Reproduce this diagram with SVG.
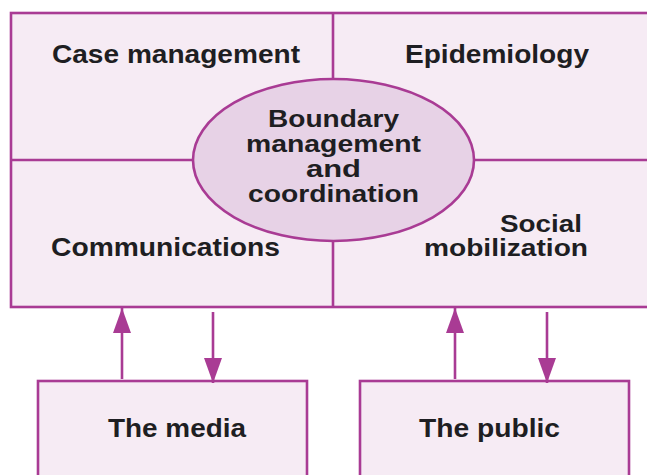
<svg xmlns="http://www.w3.org/2000/svg" width="647" height="475" viewBox="0 0 647 475">
  <style>
    .box { fill: #F6EBF4; stroke: #A93B94; stroke-width: 2.6; }
    .hub { fill: #E7D2E6; stroke: #A93B94; stroke-width: 2.6; }
    .div { stroke: #A93B94; stroke-width: 2.6; fill: none; }
    .lbl { font-family: "Liberation Sans", Arial, Helvetica, sans-serif; font-weight: bold; font-size: 25px; fill: #1E1E22; }
    .tight { font-size: 24px; }
    .tighter { font-size: 23px; }
    .link { stroke: #A93B94; stroke-width: 2.6; fill: none; }
  </style>
  <defs>
    <marker id="head" viewBox="0 0 25 18" refX="25" refY="9" markerWidth="25" markerHeight="18" markerUnits="userSpaceOnUse" orient="auto">
      <path d="M0,0 L25,9 L0,18 Z" fill="#A93B94"/>
    </marker>
  </defs>

  <g id="functions">
    <rect class="box" x="11" y="13" width="650" height="294"/>
    <line class="div" x1="11" y1="160" x2="661" y2="160"/>
    <line class="div" x1="333" y1="13" x2="333" y2="307"/>
  </g>

  <g id="case-management">
    <text class="lbl" x="52" y="63" textLength="248" lengthAdjust="spacingAndGlyphs">Case management</text>
  </g>
  <g id="epidemiology">
    <text class="lbl" x="405" y="63" textLength="184" lengthAdjust="spacingAndGlyphs">Epidemiology</text>
  </g>
  <g id="communications">
    <text class="lbl" x="51" y="256" textLength="229" lengthAdjust="spacingAndGlyphs">Communications</text>
  </g>
  <g id="social-mobilization">
    <text class="lbl tighter" x="500" y="232" textLength="82" lengthAdjust="spacingAndGlyphs">Social</text>
    <text class="lbl tighter" x="424" y="256" textLength="164" lengthAdjust="spacingAndGlyphs">mobilization</text>
  </g>

  <g id="boundary-management">
    <ellipse class="hub" cx="333.5" cy="160" rx="140.5" ry="81"/>
    <text class="lbl tight" x="268" y="127" textLength="131" lengthAdjust="spacingAndGlyphs">Boundary</text>
    <text class="lbl tight" x="246" y="152" textLength="175" lengthAdjust="spacingAndGlyphs">management</text>
    <text class="lbl tight" x="306" y="177" textLength="55" lengthAdjust="spacingAndGlyphs">and</text>
    <text class="lbl tight" x="248" y="202" textLength="171" lengthAdjust="spacingAndGlyphs">coordination</text>
  </g>

  <g id="the-media">
    <rect class="box" x="38" y="381" width="269" height="110"/>
    <text class="lbl" x="108" y="437" textLength="138" lengthAdjust="spacingAndGlyphs">The media</text>
  </g>
  <g id="the-public">
    <rect class="box" x="360" y="381" width="269" height="110"/>
    <text class="lbl" x="419" y="437" textLength="141" lengthAdjust="spacingAndGlyphs">The public</text>
  </g>

  <g id="connectors">
    <line class="link" x1="122" y1="379" x2="122" y2="308" marker-end="url(#head)"/>
    <line class="link" x1="213" y1="312" x2="213" y2="383" marker-end="url(#head)"/>
    <line class="link" x1="455" y1="379" x2="455" y2="308" marker-end="url(#head)"/>
    <line class="link" x1="547" y1="312" x2="547" y2="383" marker-end="url(#head)"/>
  </g>
</svg>
